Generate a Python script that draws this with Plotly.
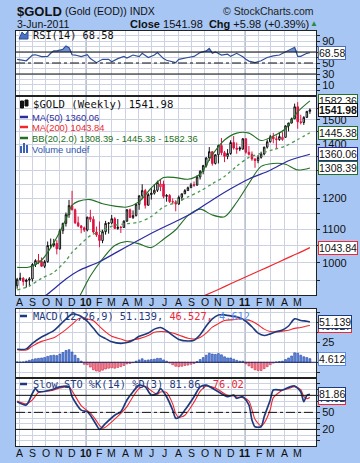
import math
import plotly.graph_objects as go
import pandas as pd

# ---------------- data (weekly, first bar week of 27-Jul-2009) ----------------
first_week = "2009-07-27"
prev_close0 = 951.0
opens = [937, 954, 957, 948, 952, 955, 995, 1006, 1004, 990,
         1003, 1050, 1051, 1056, 1040, 1095, 1118, 1146, 1176, 1162,
         1120, 1110, 1104, 1097, 1138, 1131, 1091, 1082, 1065, 1092,
         1118, 1119, 1133, 1102, 1106, 1105, 1125, 1162, 1137, 1143,
         1180, 1209, 1227, 1177, 1213, 1218, 1228, 1240, 1250, 1207,
         1210, 1189, 1188, 1181, 1204, 1216, 1227, 1237, 1247, 1246,
         1275, 1296, 1317, 1346, 1370, 1325, 1358, 1394, 1366, 1352,
         1363, 1406, 1384, 1385, 1380, 1421, 1368, 1360, 1342, 1336,
         1348, 1361, 1388, 1409, 1429, 1421, 1418, 1418, 1427, 1474,
         1486, 1504, 1556, 1491, 1488, 1510, 1536]
highs = [958, 972, 960, 956, 960, 999, 1010, 1025, 1015, 1008,
         1062, 1071, 1070, 1066, 1101, 1120, 1153, 1195, 1226, 1166,
         1140, 1113, 1108, 1139, 1162, 1141, 1108, 1124, 1098, 1126,
         1122, 1145, 1138, 1132, 1110, 1128, 1164, 1166, 1160, 1183,
         1210, 1249, 1233, 1218, 1235, 1250, 1262, 1265, 1262, 1215,
         1215, 1200, 1194, 1210, 1216, 1232, 1241, 1254, 1259, 1282,
         1300, 1320, 1349, 1388, 1371, 1360, 1398, 1424, 1373, 1380,
         1415, 1432, 1406, 1391, 1424, 1423, 1392, 1371, 1345, 1357,
         1370, 1389, 1418, 1437, 1445, 1435, 1448, 1448, 1476, 1487,
         1509, 1570, 1577, 1521, 1515, 1537, 1549]
lows = [929, 950, 937, 932, 937, 948, 988, 996, 988, 985,
        1000, 1042, 1045, 1024, 1038, 1085, 1108, 1136, 1160, 1116,
        1106, 1087, 1091, 1093, 1122, 1086, 1076, 1045, 1057, 1083,
        1086, 1115, 1101, 1098, 1088, 1105, 1123, 1135, 1132, 1140,
        1162, 1197, 1166, 1176, 1196, 1213, 1222, 1225, 1200, 1189,
        1185, 1180, 1157, 1178, 1192, 1215, 1226, 1236, 1240, 1244,
        1266, 1285, 1310, 1335, 1317, 1321, 1325, 1356, 1330, 1341,
        1358, 1378, 1362, 1372, 1378, 1362, 1355, 1335, 1309, 1326,
        1343, 1356, 1382, 1406, 1403, 1381, 1413, 1413, 1425, 1451,
        1484, 1502, 1462, 1480, 1478, 1507, 1525]
closes = [954, 957, 948, 952, 955, 995, 1006, 1004, 990, 1003,
          1050, 1051, 1056, 1040, 1095, 1118, 1146, 1176, 1162, 1120,
          1110, 1104, 1097, 1138, 1131, 1091, 1082, 1065, 1092, 1118,
          1119, 1133, 1102, 1106, 1105, 1125, 1162, 1137, 1143, 1180,
          1209, 1227, 1177, 1213, 1218, 1228, 1256, 1250, 1207, 1210,
          1189, 1188, 1181, 1204, 1216, 1227, 1237, 1247, 1246, 1275,
          1296, 1317, 1346, 1370, 1325, 1358, 1394, 1366, 1352, 1363,
          1406, 1384, 1379, 1380, 1421, 1368, 1360, 1342, 1336, 1348,
          1361, 1388, 1409, 1429, 1421, 1418, 1430, 1427, 1474, 1486,
          1504, 1556, 1491, 1488, 1510, 1536, 1541.98]

ma50_idx = [8, 10, 13, 16, 20, 27, 33, 38, 45, 53, 58, 63, 70, 76, 83, 89, 96]
ma50_val = [905, 915, 935, 955, 977, 1003, 1032, 1057, 1092, 1129, 1155, 1188,
            1233, 1268, 1300, 1335, 1360.06]
ma200_idx = [60, 62, 66, 70, 74, 78, 82, 86, 90, 94, 96]
ma200_val = [906, 913, 927, 942, 957, 972, 987, 1003, 1019, 1035, 1043.84]

bb_idx = [0, 4, 8, 12, 16, 18, 20, 24, 28, 32, 36, 40, 44, 48, 52, 56, 60, 64,
          68, 72, 76, 80, 84, 88, 92, 96]
bb_upper = [987, 988, 1007, 1058, 1131, 1177, 1190, 1196, 1182, 1174, 1171, 1189,
            1236, 1273, 1273, 1267, 1286, 1358, 1416, 1444, 1444, 1414, 1432,
            1462, 1534, 1582.36]
bb_mid = [926, 936, 957, 973, 1006, 1030, 1047, 1080, 1096, 1112, 1117, 1122,
          1140, 1171, 1186, 1205, 1225, 1251, 1277, 1315, 1348, 1364, 1378,
          1392, 1418, 1445.38]
bb_lower = [866, 884, 906, 889, 881, 884, 903, 963, 1011, 1050, 1062, 1055,
            1044, 1069, 1098, 1143, 1164, 1145, 1139, 1187, 1252, 1314, 1325,
            1322, 1301, 1308.39]

rsi_idx = [0, 2, 3, 5, 6, 8, 10, 11, 12, 13, 15, 16, 17, 18, 19, 21, 23, 24, 26,
           28, 30, 31, 33, 35, 36, 38, 40, 41, 43, 45, 46, 48, 49, 52, 53, 56,
           58, 60, 62, 63, 64, 65, 67, 69, 70, 72, 74, 75, 76, 78, 80, 82, 84,
           86, 88, 89, 91, 92, 93, 95, 96]
rsi_val = [56.7, 55.5, 54, 64.5, 65, 61.5, 62, 67.6, 72, 72, 75, 81, 78, 65, 64.5,
           61.5, 65, 58, 50.6, 56.7, 56.7, 52.4, 58, 62, 59, 64.5, 61.5, 67.6, 60,
           64.5, 69, 58, 55, 50.6, 56.7, 60, 62, 69, 72, 76.6, 67.6, 70.3, 64.5,
           66, 62, 67.6, 61.5, 56.7, 53.5, 50.6, 54, 60, 63, 64.5, 70.3, 72, 78.5,
           62, 62, 67.6, 68.58]

macd_idx = [0, 3, 5, 8, 12, 15, 18, 20, 21, 23, 25, 27, 29, 31, 34, 36, 38, 40,
            43, 45, 47, 49, 51, 53, 56, 58, 60, 62, 64, 66, 68, 71, 73, 75, 77,
            79, 81, 83, 85, 87, 89, 91, 93, 95, 96]
macd_val = [16.5, 17, 24, 32, 40, 51, 61, 60, 58, 52, 43, 34, 30, 26, 24, 25, 28,
            33, 37, 42, 44, 40, 34, 29, 27, 28, 35, 46, 55, 60, 60, 58, 56.5, 52,
            45, 37, 34, 36, 39, 41, 46, 55, 53, 52, 51.139]
signal_val = [16, 15.5, 20.5, 26.5, 31, 38.5, 48, 55, 56.5, 55, 52.5, 45.5, 38.5,
              33, 29.5, 27, 28.5, 30, 34, 38, 39, 38.5, 37, 34.5, 30.5, 29.5, 31.5,
              37, 44.5, 49, 53, 54, 55, 54, 52, 47.5, 42, 39, 38.5, 39.5, 40.5, 43,
              44, 46, 46.527]
hist_val = [0.5, 0.2, 0.5, 1.5, 2.5, 3.5, 4.5, 5, 5.5, 6,
            7.5, 8.5, 9, 8.5, 10.5, 12.5, 15, 16, 13, 9,
            5, 1.5, -2.5, -3, -6, -9.5, -11, -11.5, -10, -8.5,
            -7.5, -7, -7.5, -6.5, -5.5, -4, -2, -1.5, -0.5, 1.5,
            3, 4.5, 2.5, 3, 3.5, 4, 5, 5, 3, 1.5,
            -1, -3, -5, -5.5, -5, -4, -3.5, -2.5, -1.5, 1,
            3.5, 6, 9, 11.5, 10.5, 10, 11, 9.5, 7, 5.5,
            5.5, 4, 2.5, 1.5, 1.5, -2, -4.5, -7, -9.5, -10.5,
            -10.5, -8, -5.5, -3, -1, 0.5, 1, 1.5, 3.5, 5.5,
            8, 12, 11.5, 9, 7, 6, 4.612]

stok_idx = [0, 3, 5, 6, 7, 11, 14, 17, 18, 21, 23, 24, 26, 27, 29, 32, 34, 36, 38,
            40, 42, 44, 46, 47, 49, 51, 52, 53, 55, 58, 60, 62, 65, 69, 71, 72, 74,
            76, 77, 78, 80, 81, 83, 84, 87, 89, 91, 93, 94, 95, 96]
stok_val = [68.8, 63, 83.6, 92, 86.4, 89.4, 95, 95, 77.6, 54, 51, 45, 27.7, 20,
            30.7, 45, 51, 71.8, 86.4, 98, 95, 80.6, 83.6, 92, 77.6, 54, 39.5, 41,
            54, 77.6, 95, 98, 89.4, 77.6, 80.6, 74.8, 77.6, 63, 36.5, 24.7, 24.7,
            42.3, 71.8, 89.4, 89.4, 94, 96.5, 86.4, 68.8, 80, 81.86]
stod_idx = [0, 3, 5, 7, 11, 14, 17, 18, 21, 23, 24, 26, 27, 28, 29, 32, 34, 36, 38,
            40, 42, 44, 46, 47, 49, 51, 52, 53, 55, 58, 60, 62, 65, 69, 71, 72, 74,
            76, 77, 78, 80, 81, 83, 84, 87, 89, 91, 93, 94, 95, 96]
stod_val = [70, 65, 72, 85, 88, 93, 95, 88, 62, 53, 49, 35, 27, 22, 24, 38, 48, 60,
            78, 92, 96, 88, 82, 86, 85, 65, 48, 41, 45, 68, 87, 96, 93, 80, 79, 77,
            76, 70, 55, 38, 26, 31, 55, 76, 89, 92, 95, 90, 78, 74, 76.02]

month_ticks = ["2009-08-01", "2009-09-01", "2009-10-01", "2009-11-01", "2009-12-01",
               "2010-01-01", "2010-02-01", "2010-03-01", "2010-04-01", "2010-05-01",
               "2010-06-01", "2010-07-01", "2010-08-01", "2010-09-01", "2010-10-01",
               "2010-11-01", "2010-12-01", "2011-01-01", "2011-02-01", "2011-03-01",
               "2011-04-01", "2011-05-01"]
month_labels = ["A", "S", "O", "N", "D", "<b>10</b>", "F", "M", "A", "M", "J", "J",
                "A", "S", "O", "N", "D", "<b>11</b>", "F", "M", "A", "M"]
year_lines = ["2010-01-01", "2011-01-01"]

main_ticks = [950 + 50 * k for k in range(14)]
main_labels = [1000, 1100, 1200, 1400, 1500]
osc_ticks = [10 * k for k in range(11)]
rsi_labels = [10, 30, 50, 90]
sto_labels = [20, 50]
macd_ticks = [-12.5, 0, 12.5, 25, 37.5, 50, 62.5]
macd_labels = [25]

# ---------------- layout helpers ----------------
W, H = 360, 463
def px(x):
    return x / W
def py(y):
    return 1 - y / H
def ydom(top, bot):
    return [py(bot), py(top)]

NAVY = "#1f3a7c"
MA50C = "#2b2ba0"
RED = "#f0282d"
GREEN = "#237023"
CRED = "#dc1440"
GRID = "#cdd2e2"
BG = "#a7c6f3"
FONT = "Liberation Sans, Arial, sans-serif"
MONO = "DejaVu Sans Mono, monospace"

n = len(closes)
dates = list(pd.date_range(first_week, periods=n, freq="7D"))
def dx(idx):
    return [dates[i] for i in idx]

X_RANGE = ["2009-07-24 08:00", "2011-06-13"]
D_RSI = ydom(31, 95)
D_MAIN = ydom(97, 295)
D_MACD = ydom(309, 377)
D_STO = ydom(379, 446)

fig = go.Figure()

# ---- RSI panel ----
rx = dx(rsi_idx)
fig.add_trace(go.Scatter(x=rx, y=[70] * len(rx), mode="lines", line=dict(width=0),
                         xaxis="x2", yaxis="y2", hoverinfo="skip", showlegend=False))
fig.add_trace(go.Scatter(x=rx, y=[max(v, 70) for v in rsi_val], mode="lines",
                         line=dict(width=0), fill="tonexty", fillcolor="#6e92d4",
                         xaxis="x2", yaxis="y2", showlegend=False))
fig.add_trace(go.Scatter(x=rx, y=rsi_val, mode="lines",
                         line=dict(color="#2f4f94", width=1.2),
                         xaxis="x2", yaxis="y2", showlegend=False))

# ---- main panel ----
def line(idx, vals, color, width=1.0, dash=None):
    fig.add_trace(go.Scatter(x=dx(idx), y=vals, mode="lines",
                             line=dict(color=color, width=width, dash=dash,
                                       shape="spline", smoothing=0.8),
                             xaxis="x", yaxis="y", showlegend=False))

line(bb_idx, bb_upper, GREEN, 1.1)
line(bb_idx, bb_lower, GREEN, 1.1)
line(bb_idx, bb_mid, "#4c9a4c", 1.3, "dot")
line(ma200_idx, ma200_val, RED, 1.2)
line(ma50_idx, ma50_val, MA50C, 1.2)

prev = [prev_close0] + closes[:-1]
up_sel = [i for i in range(n) if closes[i] >= prev[i]]
dn_sel = [i for i in range(n) if closes[i] < prev[i]]
for sel, col in ((up_sel, "#111111"), (dn_sel, CRED)):
    fig.add_trace(go.Candlestick(
        x=dx(sel), open=[opens[i] for i in sel], high=[highs[i] for i in sel],
        low=[lows[i] for i in sel], close=[closes[i] for i in sel],
        increasing=dict(line=dict(color=col, width=1), fillcolor="white"),
        decreasing=dict(line=dict(color=col, width=1), fillcolor=col),
        whiskerwidth=0, xaxis="x", yaxis="y", showlegend=False))

# ---- MACD panel ----
fig.add_trace(go.Bar(x=dates, y=hist_val, width=4.3 * 86400000,
                     marker=dict(color=["#5a8ce8" if v >= 0 else "#f28a98" for v in hist_val],
                                 line=dict(color=["#23409a" if v >= 0 else "#d0203c" for v in hist_val],
                                           width=0.6)),
                     xaxis="x3", yaxis="y3", showlegend=False))
fig.add_trace(go.Scatter(x=dx(macd_idx), y=signal_val, mode="lines",
                         line=dict(color=RED, width=1.1, shape="spline", smoothing=0.8),
                         xaxis="x3", yaxis="y3", showlegend=False))
fig.add_trace(go.Scatter(x=dx(macd_idx), y=macd_val, mode="lines",
                         line=dict(color=NAVY, width=1.6, shape="spline", smoothing=0.8),
                         xaxis="x3", yaxis="y3", showlegend=False))

# ---- STO panel ----
fig.add_trace(go.Scatter(x=dx(stod_idx), y=stod_val, mode="lines",
                         line=dict(color=RED, width=1.1, shape="spline", smoothing=0.7),
                         xaxis="x4", yaxis="y4", showlegend=False))
fig.add_trace(go.Scatter(x=dx(stok_idx), y=stok_val, mode="lines",
                         line=dict(color=NAVY, width=1.7, shape="spline", smoothing=0.7),
                         xaxis="x4", yaxis="y4", showlegend=False))

# ---------------- axes ----------------
tickfont = dict(family=FONT, size=11, color="#111111")
def xax(anchor):
    return dict(domain=[px(16), px(316)], range=X_RANGE, type="date", anchor=anchor,
                tickmode="array", tickvals=month_ticks, showticklabels=False,
                ticks="", showgrid=True, gridcolor=GRID, gridwidth=1,
                showline=True, mirror=True, linecolor="#222222", linewidth=1,
                zeroline=False, fixedrange=True)

def yax(anchor, dom, rng, vals, labels, typ="linear"):
    texts = [str(int(v)) if v in labels else "" for v in vals]
    return dict(domain=dom, range=rng, type=typ, anchor=anchor, side="right",
                tickmode="array", tickvals=vals, ticktext=texts, ticks="outside",
                ticklen=3, tickcolor="#222222", showgrid=True, gridcolor=GRID,
                showline=True, mirror=True, linecolor="#222222", linewidth=1,
                zeroline=False, tickfont=tickfont, fixedrange=True)

layout = dict(
    width=W, height=H, autosize=False,
    margin=dict(l=0, r=0, t=0, b=0),
    paper_bgcolor=BG, plot_bgcolor="white",
    showlegend=False, bargap=0, hovermode=False,
    xaxis=xax("y"),
    xaxis2=dict(xax("y2"), matches="x"),
    xaxis3=dict(xax("y3"), matches="x"),
    xaxis4=dict(xax("y4"), matches="x"),
    yaxis=yax("x", D_MAIN, [math.log10(912.6), math.log10(1599.7)], main_ticks,
              main_labels, "log"),
    yaxis2=yax("x2", D_RSI, [-8.2, 108.2], osc_ticks, rsi_labels),
    yaxis3=yax("x3", D_MACD, [-18.6, 67.5], macd_ticks, macd_labels),
    yaxis4=yax("x4", D_STO, [-9.3, 108.8], osc_ticks, sto_labels),
)
layout["xaxis"]["rangeslider"] = dict(visible=False)
fig.update_layout(**layout)

# ---------------- reference lines ----------------
shapes = []
def hline(xref, yref, y, dash="solid", color="#111111", width=1):
    shapes.append(dict(type="line", xref=xref + " domain", yref=yref, x0=0, x1=1,
                       y0=y, y1=y, line=dict(color=color, width=width, dash=dash)))
hline("x2", "y2", 70); hline("x2", "y2", 30); hline("x2", "y2", 50, "dashdot")
hline("x4", "y4", 80); hline("x4", "y4", 20); hline("x4", "y4", 50, "dashdot")
hline("x3", "y3", 0, color="#1b2b66")
for yl in year_lines:
    for dom in (D_RSI, D_MAIN, D_MACD, D_STO):
        shapes.append(dict(type="line", xref="x", yref="paper", x0=yl, x1=yl,
                           y0=dom[0], y1=dom[1], line=dict(color="#9098a8", width=1.2),
                           layer="below"))

def seg(x0, x1, y, color, width=2.5):
    shapes.append(dict(type="line", xref="paper", yref="paper", x0=px(x0), x1=px(x1),
                       y0=py(y), y1=py(y), line=dict(color=color, width=width)))
seg(20, 28, 117, MA50C)
seg(20, 28, 127, RED)
seg(20, 28, 138, GREEN)
seg(20, 27, 316, NAVY)
seg(20, 27, 384, NAVY)
for (x0, top) in ((20, 146), (23, 143), (26, 145)):
    shapes.append(dict(type="rect", xref="paper", yref="paper", x0=px(x0), x1=px(x0 + 2),
                       y0=py(153), y1=py(top), line=dict(width=0), fillcolor="#3b62b8"))
for (x0, t, b) in ((20.5, 101, 108), (25, 100, 106)):
    shapes.append(dict(type="rect", xref="paper", yref="paper", x0=px(x0), x1=px(x0 + 3),
                       y0=py(b), y1=py(t), line=dict(color="#111111", width=1),
                       fillcolor="#111111"))
shapes.append(dict(type="path", xref="paper", yref="paper",
                   path="M {},{} L {},{} L {},{} L {},{} L {},{} Z".format(
                       px(19), py(39), px(22), py(32), px(25), py(35), px(28), py(31),
                       px(28), py(39)),
                   fillcolor="#4a72c0", line=dict(color="#2b4f9a", width=1)))
fig.update_layout(shapes=shapes)

# ---------------- text ----------------
ann = []
def txt(x, y, text, size=11, color="#111111", family=FONT, anchor="left"):
    ann.append(dict(x=px(x), y=py(y), xref="paper", yref="paper", text=text,
                    showarrow=False, xanchor=anchor, yanchor="middle",
                    font=dict(family=family, size=size, color=color)))

txt(15, 11, "<b>$GOLD</b>", 13)
txt(63, 11, "(Gold (EOD)) INDX", 10.5)
txt(316, 11, "© StockCharts.com", 10.5, "#222222", anchor="right")
txt(15, 24, "3-Jun-2011", 10.5)
txt(128, 23.5, "<b>Close</b> 1541.98  <b>Chg</b> +5.98 (+0.39%)", 11)
txt(308, 23.5, "▲", 8, "#2a8a3a")

txt(31, 35, "RSI(14) 68.58", 10.3, family=MONO)
txt(31, 104, "$GOLD (Weekly) 1541.98", 10.6, family=MONO)
txt(30, 117, "MA(50) 1360.06", 9.4, MA50C)
txt(30, 127.5, "MA(200) 1043.84", 9.4, RED)
txt(30, 138, "BB(20,2.0) 1308.39 - 1445.38 - 1582.36", 9.4, GREEN)
txt(30, 149, "Volume undef", 9.4, "#2d55b0")
txt(31, 316, "<span style='color:#1f3a7c'>MACD(12,26,9) 51.139,</span> "
             "<span style='color:#e8283a'>46.527,</span> "
             "<span style='color:#5a8ce8'>4.612</span>", 10.3, family=MONO)
txt(31, 384, "<span style='color:#1f3a7c'>Slow STO %K(14) %D(3) 81.86,</span> "
             "<span style='color:#e8283a'>76.02</span>", 10.3, family=MONO)

for yy in (302, 452.5):
    for tv, tl in zip(month_ticks, month_labels):
        ann.append(dict(x=tv, y=py(yy), xref="x", yref="paper", text=tl,
                        showarrow=False, xanchor="center", yanchor="middle",
                        font=dict(family=FONT, size=10.5, color="#111111")))

def box(yref, y, text, color, bold=False):
    ann.append(dict(x=px(317.5), y=y, xref="paper", yref=yref,
                    text="<b>%s</b>" % text if bold else text, showarrow=False,
                    xanchor="left", yanchor="middle", bgcolor="white",
                    bordercolor=color, borderwidth=1, borderpad=0,
                    font=dict(family=FONT, size=10.5, color="#111111")))

box("y2", 68.58, "68.58", "#4a6fb8")
box("y", math.log10(1582.36), "1582.36", GREEN)
box("y", math.log10(1541.98), "1541.98", "#111111", True)
box("y", math.log10(1445.38), "1445.38", GREEN)
box("y", math.log10(1360.06), "1360.06", MA50C)
box("y", math.log10(1308.39), "1308.39", GREEN)
box("y", math.log10(1043.84), "1043.84", RED)
box("y3", 46.527, "46.527", RED)
box("y3", 51.139, "51.139", NAVY)
box("y3", 4.612, "4.612", "#5a8ce8")
box("y4", 76.02, "76.02", RED)
box("y4", 81.86, "81.86", NAVY)

fig.update_layout(annotations=ann)
fig.write_html("out.html", config={"displayModeBar": False, "staticPlot": True},
               post_script="document.body.style.margin='0';document.body.style.padding='0';")
